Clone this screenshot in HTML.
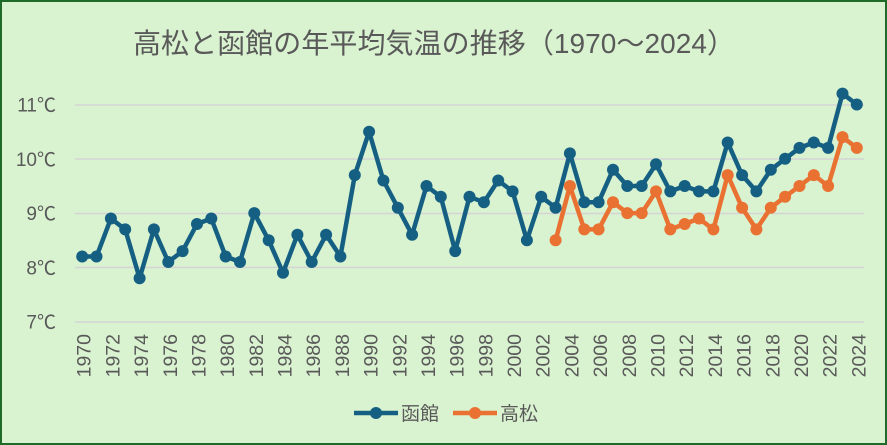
<!DOCTYPE html>
<html><head><meta charset="utf-8"><style>
html,body{margin:0;padding:0;background:#d9f2d0;}
svg{display:block;}
text{font-family:"Liberation Sans","Noto Sans CJK JP",sans-serif;fill:#595959;}
</style></head><body>
<svg width="887" height="445" viewBox="0 0 887 445" xmlns="http://www.w3.org/2000/svg">
<defs>
<marker id="mb" markerUnits="userSpaceOnUse" markerWidth="14" markerHeight="14" refX="7" refY="7" overflow="visible"><circle cx="7" cy="7" r="6" fill="#156082"/></marker>
<marker id="mo" markerUnits="userSpaceOnUse" markerWidth="14" markerHeight="14" refX="7" refY="7" overflow="visible"><circle cx="7" cy="7" r="6" fill="#E97132"/></marker>
</defs>
<rect x="1" y="1" width="885" height="443" fill="#d9f2d0" stroke="#1e6a28" stroke-width="2"/>
<text x="133" y="53" font-size="28" textLength="602" lengthAdjust="spacing">高松と函館の年平均気温の推移（1970～2024）</text>
<g stroke="#d4d4d4" stroke-width="1.6">
<line x1="75" y1="105" x2="864" y2="105"/>
<line x1="75" y1="159" x2="864" y2="159"/>
<line x1="75" y1="213.5" x2="864" y2="213.5"/>
<line x1="75" y1="267.5" x2="864" y2="267.5"/>
<line x1="75" y1="322" x2="864" y2="322"/>
</g>
<g font-size="19" text-anchor="end">
<text x="56" y="111.5">11℃</text>
<text x="56" y="165.8">10℃</text>
<text x="56" y="220.1">9℃</text>
<text x="56" y="274.4">8℃</text>
<text x="56" y="328.7">7℃</text>
</g>
<g font-size="19.5" text-anchor="end">
<text transform="translate(90.7,334) rotate(-90)">1970</text>
<text transform="translate(119.4,334) rotate(-90)">1972</text>
<text transform="translate(148.1,334) rotate(-90)">1974</text>
<text transform="translate(176.8,334) rotate(-90)">1976</text>
<text transform="translate(205.5,334) rotate(-90)">1978</text>
<text transform="translate(234.2,334) rotate(-90)">1980</text>
<text transform="translate(262.8,334) rotate(-90)">1982</text>
<text transform="translate(291.5,334) rotate(-90)">1984</text>
<text transform="translate(320.2,334) rotate(-90)">1986</text>
<text transform="translate(348.9,334) rotate(-90)">1988</text>
<text transform="translate(377.6,334) rotate(-90)">1990</text>
<text transform="translate(406.3,334) rotate(-90)">1992</text>
<text transform="translate(435.0,334) rotate(-90)">1994</text>
<text transform="translate(463.7,334) rotate(-90)">1996</text>
<text transform="translate(492.4,334) rotate(-90)">1998</text>
<text transform="translate(521.1,334) rotate(-90)">2000</text>
<text transform="translate(549.7,334) rotate(-90)">2002</text>
<text transform="translate(578.4,334) rotate(-90)">2004</text>
<text transform="translate(607.1,334) rotate(-90)">2006</text>
<text transform="translate(635.8,334) rotate(-90)">2008</text>
<text transform="translate(664.5,334) rotate(-90)">2010</text>
<text transform="translate(693.2,334) rotate(-90)">2012</text>
<text transform="translate(721.9,334) rotate(-90)">2014</text>
<text transform="translate(750.6,334) rotate(-90)">2016</text>
<text transform="translate(779.3,334) rotate(-90)">2018</text>
<text transform="translate(808.0,334) rotate(-90)">2020</text>
<text transform="translate(836.6,334) rotate(-90)">2022</text>
<text transform="translate(865.3,334) rotate(-90)">2024</text>
</g>
<polyline fill="none" stroke="#156082" stroke-width="4.5" stroke-linejoin="round" marker-start="url(#mb)" marker-mid="url(#mb)" marker-end="url(#mb)" points="82.2,256.5 96.5,256.5 110.9,218.5 125.2,229.4 139.6,278.3 153.9,229.4 168.3,262.0 182.6,251.1 197.0,224.0 211.3,218.5 225.7,256.5 240.0,262.0 254.3,213.1 268.7,240.3 283.0,272.8 297.4,234.8 311.7,262.0 326.1,234.8 340.4,256.5 354.8,175.1 369.1,131.7 383.4,180.5 397.8,207.7 412.1,234.8 426.5,186.0 440.8,196.8 455.2,251.1 469.5,196.8 483.9,202.2 498.2,180.5 512.6,191.4 526.9,240.3 541.2,196.8 555.6,207.7 569.9,153.4 584.3,202.2 598.6,202.2 613.0,169.7 627.3,186.0 641.7,186.0 656.0,164.2 670.3,191.4 684.7,186.0 699.0,191.4 713.4,191.4 727.7,142.5 742.1,175.1 756.4,191.4 770.8,169.7 785.1,158.8 799.5,147.9 813.8,142.5 828.1,147.9 842.5,93.6 856.8,104.5"/>
<polyline fill="none" stroke="#E97132" stroke-width="4.5" stroke-linejoin="round" marker-start="url(#mo)" marker-mid="url(#mo)" marker-end="url(#mo)" points="555.6,240.3 569.9,186.0 584.3,229.4 598.6,229.4 613.0,202.2 627.3,213.1 641.7,213.1 656.0,191.4 670.3,229.4 684.7,224.0 699.0,218.5 713.4,229.4 727.7,175.1 742.1,207.7 756.4,229.4 770.8,207.7 785.1,196.8 799.5,186.0 813.8,175.1 828.1,186.0 842.5,137.1 856.8,147.9"/>
<line x1="354" y1="413" x2="398" y2="413" stroke="#156082" stroke-width="4.5"/>
<circle cx="376" cy="413" r="6" fill="#156082"/>
<text x="401" y="420" font-size="19">函館</text>
<line x1="453" y1="413" x2="497" y2="413" stroke="#E97132" stroke-width="4.5"/>
<circle cx="475" cy="413" r="6" fill="#E97132"/>
<text x="500" y="420" font-size="19">高松</text>
</svg>
</body></html>
